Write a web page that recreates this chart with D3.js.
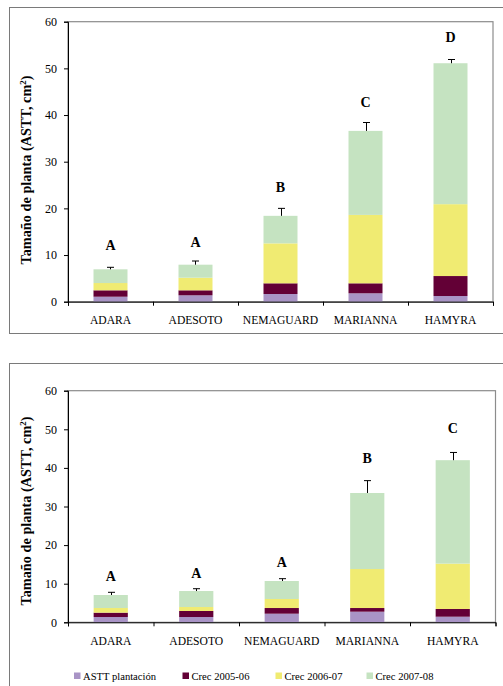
<!DOCTYPE html>
<html>
<head>
<meta charset="utf-8">
<script src="https://cdn.jsdelivr.net/npm/d3@7"></script>
<style>
  html, body { margin: 0; padding: 0; background: #fff; }
  svg { display: block; }
</style>
</head>
<body>
<svg id="chart" width="503" height="686" font-family="Liberation Serif"></svg>
<script>
// ---------- DATA ----------
const categories = ["ADARA", "ADESOTO", "NEMAGUARD", "MARIANNA", "HAMYRA"];
const seriesNames = ["ASTT plantación", "Crec 2005-06", "Crec 2006-07", "Crec 2007-08"];
const seriesColors = ["#a994c6", "#630036", "#f0eb72", "#c5e3c1"];
const yTicks = [0, 10, 20, 30, 40, 50, 60];

// Top chart
const topPlantacion = [1.07, 1.37, 1.65, 1.80, 1.22];
const topCrec0506   = [1.37, 1.07, 2.29, 2.14, 4.28];
const topCrec0607   = [1.56, 2.70, 8.56, 14.66, 15.40];
const topCrec0708   = [2.94, 2.79, 5.90, 18.00, 30.20];
const topError      = [0.43, 0.79, 1.60, 1.80, 0.80];
const topLetters    = ["A", "A", "B", "C", "D"];
const topLetterY    = [11.1, 11.7, 23.6, 41.7, 55.6];

// Bottom chart
const botPlantacion = [1.37, 1.37, 2.23, 2.75, 1.45];
const botCrec0506   = [1.13, 1.56, 1.47, 0.95, 2.00];
const botCrec0607   = [1.20, 1.03, 2.34, 10.10, 11.75];
const botCrec0708   = [3.37, 4.14, 4.66, 19.70, 26.80];
const botError      = [0.70, 0.60, 0.60, 3.20, 2.00];
const botLetters    = ["A", "A", "A", "B", "C"];
const botLetterY    = [10.8, 11.4, 14.2, 41.3, 49.0];

// ---------- DRAW ----------
const FONT = "Liberation Serif";
const svg = d3.select("#chart");
const keys = ["s0", "s1", "s2", "s3"];

function buildRows(a, b, c, d, err, letters, letterY) {
  return categories.map((cat, i) => ({
    cat, s0: a[i], s1: b[i], s2: c[i], s3: d[i],
    err: err[i], letter: letters[i], letterY: letterY[i]
  }));
}

function drawChart(rows, box) {
  // outer frame
  svg.append("rect")
    .attr("x", box.frameX + 0.5).attr("y", box.frameY + 0.5)
    .attr("width", box.frameW).attr("height", box.frameH)
    .attr("fill", "none").attr("stroke", "#7a7a7a").attr("stroke-width", 1);

  const x = d3.scaleBand().domain(categories)
    .range([box.left, box.right]).paddingInner(0.6).paddingOuter(0.3);
  const y = d3.scaleLinear().domain([0, 60]).range([box.bottom, box.top]);

  const g = svg.append("g");

  // plot border (top / right gray)
  g.append("rect")
    .attr("x", box.left).attr("y", box.top)
    .attr("width", box.right - box.left).attr("height", box.bottom - box.top)
    .attr("fill", "none").attr("stroke", "#8c8c8c").attr("stroke-width", 1.2);

  // stacked bars
  const stacked = d3.stack().keys(keys)(rows);
  stacked.forEach((layer, li) => {
    g.append("g").selectAll("rect").data(layer).enter().append("rect")
      .attr("x", d => x(d.data.cat))
      .attr("width", x.bandwidth())
      .attr("y", d => y(d[1]))
      .attr("height", d => y(d[0]) - y(d[1]))
      .attr("fill", seriesColors[li]);
  });

  // error bars (upper only)
  const total = d => d.s0 + d.s1 + d.s2 + d.s3;
  const eb = g.append("g").attr("stroke", "#000").attr("stroke-width", 1);
  rows.forEach(d => {
    const cx = Math.round(x(d.cat) + x.bandwidth() / 2) + 0.5;
    eb.append("line").attr("x1", cx).attr("x2", cx)
      .attr("y1", y(total(d))).attr("y2", y(total(d) + d.err));
    eb.append("line").attr("x1", cx - 3.5).attr("x2", cx + 3.5)
      .attr("y1", y(total(d) + d.err)).attr("y2", y(total(d) + d.err));
  });

  // significance letters
  g.append("g").selectAll("text").data(rows).enter().append("text")
    .attr("x", d => x(d.cat) + x.bandwidth() / 2)
    .attr("y", d => y(d.letterY))
    .attr("text-anchor", "middle")
    .style("font-size", "14px").style("font-weight", "bold")
    .text(d => d.letter);

  // y axis
  const yAxis = g.append("g").attr("transform", `translate(${box.left},0)`)
    .call(d3.axisLeft(y).tickValues(yTicks).tickSize(4).tickPadding(7));
  yAxis.attr("font-family", FONT);
  yAxis.select(".domain").attr("stroke", "#000");
  yAxis.selectAll(".tick line").attr("stroke", "#000");
  yAxis.selectAll(".tick text").style("font-size", "12px");

  // x axis: boundary ticks
  const xb = d3.scaleLinear().domain([0, categories.length]).range([box.left, box.right]);
  const xAxisTicks = g.append("g").attr("transform", `translate(0,${box.bottom})`)
    .call(d3.axisBottom(xb).tickValues(d3.range(0, categories.length + 1)).tickSize(4).tickFormat(""));
  xAxisTicks.select(".domain").attr("stroke", "#000");
  xAxisTicks.selectAll(".tick line").attr("stroke", "#000");
  xAxisTicks.selectAll(".tick text").remove();

  // x axis: category labels
  const xAxisLabels = g.append("g").attr("transform", `translate(0,${box.bottom})`)
    .call(d3.axisBottom(x).tickSize(0).tickPadding(14));
  xAxisLabels.attr("font-family", FONT);
  xAxisLabels.select(".domain").remove();
  xAxisLabels.selectAll(".tick text").style("font-size", "11.6px");

  // y axis title
  const t = svg.append("text")
    .attr("transform", `translate(${box.titleX},${box.titleY}) rotate(-90)`)
    .attr("text-anchor", "middle")
    .style("font-size", "14.3px").style("font-weight", "bold");
  t.append("tspan").text("Tamaño de planta (ASTT, cm");
  t.append("tspan").text("2").style("font-size", "9px").attr("dy", -5);
  t.append("tspan").text(")").attr("dy", 5);
}

drawChart(
  buildRows(topPlantacion, topCrec0506, topCrec0607, topCrec0708, topError, topLetters, topLetterY),
  { frameX: 9, frameY: 7, frameW: 500, frameH: 326,
    left: 68, right: 493, top: 21.7, bottom: 301.7, titleX: 31, titleY: 170 }
);

drawChart(
  buildRows(botPlantacion, botCrec0506, botCrec0607, botCrec0708, botError, botLetters, botLetterY),
  { frameX: 9, frameY: 363, frameW: 500, frameH: 400,
    left: 68, right: 495.5, top: 390.7, bottom: 622.3, titleX: 31, titleY: 511 }
);

// legend
const legendX = [74, 182.5, 275.5, 366.5];
const legend = svg.append("g").attr("transform", "translate(0,676)");
seriesNames.forEach((name, i) => {
  legend.append("rect").attr("x", legendX[i]).attr("y", -3.5)
    .attr("width", 6.5).attr("height", 6.5).attr("fill", seriesColors[i]);
  legend.append("text").attr("x", legendX[i] + 9).attr("y", 4)
    .style("font-size", "10.6px").text(name);
});

svg.selectAll("text").style("font-family", FONT);
</script>
</body>
</html>
